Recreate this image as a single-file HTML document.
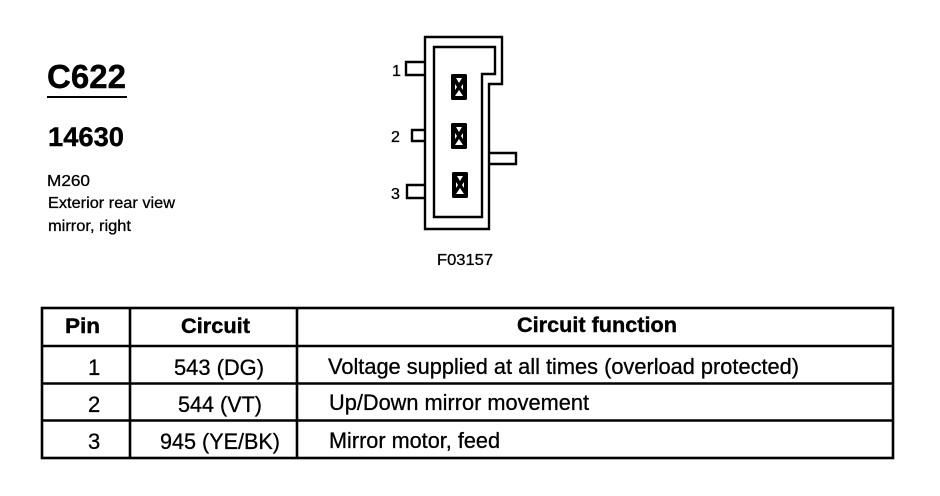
<!DOCTYPE html>
<html><head><meta charset="utf-8"><style>
html,body{margin:0;padding:0;background:#fff}
svg{display:block}
text{font-family:"Liberation Sans",sans-serif;fill:#000;stroke:#000;stroke-width:.3px}
.b{font-weight:bold;stroke-width:.4px}
</style></head><body>
<svg width="940" height="496" viewBox="0 0 940 496" xmlns="http://www.w3.org/2000/svg">
<rect width="940" height="496" fill="#fff"/>
<text x="47" y="88" font-size="33" class="b" textLength="79" lengthAdjust="spacingAndGlyphs">C622</text>
<rect x="47" y="96" width="80" height="2" fill="#000"/>
<text x="48" y="146" font-size="27" class="b" textLength="76" lengthAdjust="spacingAndGlyphs">14630</text>
<text x="47" y="186" font-size="16" textLength="43" lengthAdjust="spacingAndGlyphs">M260</text>
<text x="48" y="208" font-size="16" textLength="127" lengthAdjust="spacingAndGlyphs">Exterior rear view</text>
<text x="48" y="231" font-size="16" textLength="83" lengthAdjust="spacingAndGlyphs">mirror, right</text>

<g fill="none" stroke="#000" stroke-width="2.4">
<path d="M425 37H502V84H489V229H425Z"/>
<path d="M434 47H495V74H482V217H434Z"/>
<path d="M424 62H406V75H424"/>
<path d="M424 130H412V141H424"/>
<path d="M425 185H407V198H425"/>
<path d="M490 153H516V164H490"/>
</g>
<g>
<rect x="451" y="74" width="16" height="26" rx="1.5" fill="#000"/>
<rect x="451" y="123" width="16" height="26" rx="1.5" fill="#000"/>
<rect x="452" y="172" width="16" height="26" rx="1.500" fill="#000"/>
<g fill="#fff">
<path d="M456 78H462L459 83ZM455 96H463L459 90Z"/>
<path d="M456 127H462L459 132ZM455 145H463L459 139Z"/>
<path d="M457 176H463L460 181ZM456 194H464L460 188Z"/>
<path d="M455 84L457 87L455 90ZM463 84L461 87L463 90Z"/>
<path d="M455 133L457 136L455 139ZM463 133L461 136L463 139Z"/>
<path d="M456 182L458 185L456 188ZM464 182L462 185L464 188Z"/>
</g>
</g>
<text x="392" y="76" font-size="16">1</text>
<text x="391" y="142" font-size="16">2</text>
<text x="391" y="199" font-size="16">3</text>
<text x="437" y="265" font-size="16" textLength="56" lengthAdjust="spacingAndGlyphs">F03157</text>

<g fill="none" stroke="#000" stroke-width="2.6">
<rect x="42" y="308" width="851" height="150"/>
<path d="M42 346H893M42 383.500H893M42 420.500H893"/>
<path d="M130 308V458M297 308V458"/>
</g>
<text x="65" y="333" font-size="21" class="b" textLength="35" lengthAdjust="spacingAndGlyphs">Pin</text>
<text x="181" y="333" font-size="21" class="b" textLength="69" lengthAdjust="spacingAndGlyphs">Circuit</text>
<text x="517" y="332" font-size="21" class="b" textLength="160" lengthAdjust="spacingAndGlyphs">Circuit function</text>
<text x="88" y="375" font-size="22">1</text>
<text x="88" y="412" font-size="22">2</text>
<text x="88" y="449" font-size="22">3</text>
<text x="174" y="375" font-size="22" textLength="90" lengthAdjust="spacingAndGlyphs">543 (DG)</text>
<text x="178" y="412" font-size="22" textLength="84" lengthAdjust="spacingAndGlyphs">544 (VT)</text>
<text x="160" y="449" font-size="22" textLength="120" lengthAdjust="spacingAndGlyphs">945 (YE/BK)</text>
<text x="328" y="374" font-size="22" textLength="471" lengthAdjust="spacingAndGlyphs">Voltage supplied at all times (overload protected)</text>
<text x="329" y="410" font-size="22" textLength="260" lengthAdjust="spacingAndGlyphs">Up/Down mirror movement</text>
<text x="329" y="448" font-size="22" textLength="171" lengthAdjust="spacingAndGlyphs">Mirror motor, feed</text>
</svg>
</body></html>
